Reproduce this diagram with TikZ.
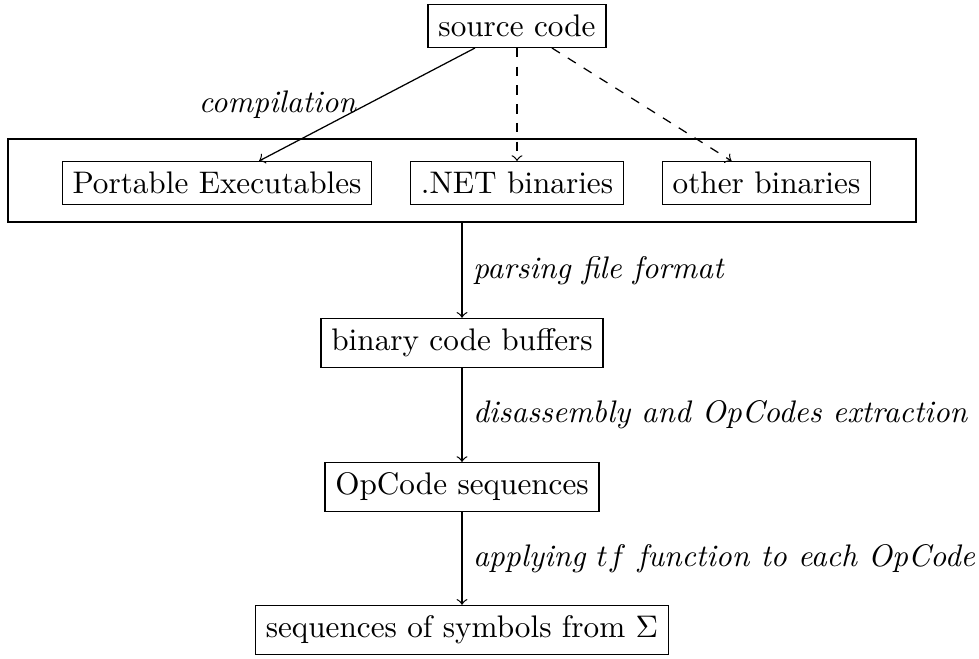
\documentclass[tikz,border=0pt]{standalone}
\begin{document}
\begin{tikzpicture}[x=0.3205pt, y=-0.3205pt,
  box/.style={draw, inner sep=3.33pt},
  flow/.style={->},
  lbl/.style={font=\itshape}]
\useasboundingbox (0,0) rectangle (979,658);
% frame around the three kinds of binaries
\node[draw, minimum width=291pt, minimum height=26.6pt, inner sep=0pt] (bins) at (462,180.5) {};
\node[box] (src) at (517,26) {source code};
\node[box] (pe)  at (217,183) {Portable Executables};
\node[box] (net) at (517,183) {.NET binaries};
\node[box] (oth) at (766.5,183) {other binaries};
\node[box] (buf) at (462,343) {binary code buffers};
\node[box] (ops) at (462,487) {OpCode sequences};
\node[box] (sym) at (462,630) {sequences of symbols from $\Sigma$};
% connectors
\draw[flow] (src) -- node[midway,left,lbl]{compilation} (pe);
\draw[flow,dashed] (src) -- (net);
\draw[flow,dashed] (src) -- (oth);
\draw[flow] (bins) -- node[right,lbl]{parsing file format} (buf);
\draw[flow] (buf) -- node[right,lbl]{disassembly and OpCodes extraction} (ops);
\draw[flow] (ops) -- node[right,lbl]{applying $tf$ function to each OpCode} (sym);
\end{tikzpicture}
\end{document}
